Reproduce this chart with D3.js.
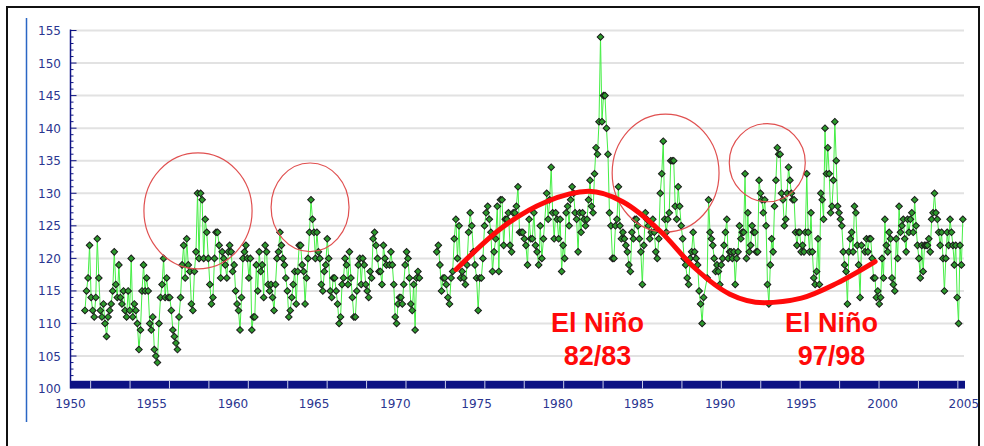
<!DOCTYPE html>
<html>
<head>
<meta charset="utf-8">
<script src="https://cdn.jsdelivr.net/npm/d3@7"></script>
<style>
  html, body { margin: 0; padding: 0; background: #fff; }
  svg { display: block; }
</style>
</head>
<body>
<svg id="chart" width="984" height="446"></svg>
<script>
// ==========================================================================
// DATA (monthly readings)
// ==========================================================================

// each block: values spread evenly between its first and last year
const block1Span = [1950.89, 1959.72];
const block1 = [112, 115, 117, 122, 114, 112, 111, 114, 123, 117, 112, 111, 113, 110, 108, 111,
  112, 113, 115, 121, 116, 114, 119, 114, 113, 115, 112, 111, 115, 112, 120, 111, 113, 112, 110,
  106, 109, 115, 119, 115, 117, 115, 110, 109, 111, 106, 105, 104, 110, 114, 116, 120, 114, 117,
  114, 114, 112, 109, 108, 107, 106, 111, 114, 119, 122, 117, 123, 119, 118, 113, 112, 118, 121,
  130, 120, 130, 129, 120, 126, 124, 120, 116, 113, 114, 120, 124, 124, 122, 117, 121, 120, 119,
  117, 121];

const block2Span = [1959.8, 1969.45];
const block2 = [122, 121, 118, 119, 115, 113, 112, 109, 114, 120, 121, 122, 120, 117, 120, 109,
  111, 111, 119, 115, 121, 118, 119, 114, 122, 121, 116, 115, 116, 114, 112, 116, 120, 121, 124,
  122, 120, 119, 117, 115, 111, 112, 114, 116, 118, 113, 118, 122, 122, 119, 118, 113, 117, 120,
  124, 129, 126, 124, 120, 124, 121, 120, 116, 115, 118, 119, 123, 120, 115, 114, 117, 117, 115,
  113, 110, 111, 116, 117, 120, 119, 116, 121, 117, 114, 111, 111, 115, 119, 120, 116, 120, 119,
  116, 115, 114, 118, 117, 123, 124, 122, 120, 118, 118, 116, 122, 120, 119];

const block3Span = [1969.64, 1971.48];
const block3 = [119, 121, 119, 116, 111, 110, 113, 114, 114, 113, 116, 119, 121, 120, 117, 113,
  112, 116, 109, 117, 118, 117];

const block4Span = [1972.55, 1979.12];
const block4 = [121, 122, 119, 115, 117, 117, 116, 114, 113, 117, 118, 123, 126, 120, 125, 117,
  118, 117, 116, 119, 124, 127, 125, 121, 119, 117, 112, 117, 117, 120, 125, 127, 128, 126, 124,
  118, 121, 123, 128, 118, 129, 129, 122, 126, 126, 127, 122, 121, 127, 127, 128, 131, 124, 124,
  124, 123, 122, 119, 126, 123, 123, 127, 122, 121, 119, 125, 120, 123];

const block5Span = [1979.32, 1988.98];
const block5 = [130, 126, 129, 134, 127, 123, 127, 126, 123, 126, 118, 122, 120, 127, 128, 125,
  129, 131, 130, 127, 126, 121, 127, 124, 127, 126, 125, 126, 129, 132, 128, 127, 133, 137, 136,
  141, 154, 141, 145, 145, 140, 136, 127, 125, 120, 120, 125, 126, 131, 125, 123, 124, 123, 122,
  121, 119, 118, 124, 123, 126, 126, 125, 123, 121, 116, 122, 127, 126, 125, 123, 124, 126, 124,
  121, 120, 123, 130, 133, 138, 126, 124, 126, 127, 135, 135, 135, 128, 126, 131, 128, 125, 123,
  120, 119, 117, 116, 120, 121, 124, 121, 120, 119, 115, 113, 110, 114];

const block6Span = [1989.2, 1998.7];
const block6 = [117, 129, 124, 123, 122, 120, 118, 119, 118, 116, 119, 120, 122, 124, 126, 120,
  121, 121, 120, 121, 116, 120, 121, 125, 123, 124, 124, 133, 120, 127, 121, 122, 125, 124, 124,
  121, 121, 132, 130, 129, 127, 129, 125, 116, 113, 119, 123, 121, 128, 132, 137, 136, 136, 130,
  129, 125, 126, 130, 134, 132, 130, 129, 129, 124, 122, 124, 124, 121, 122, 121, 124, 133, 124,
  121, 127, 121, 117, 116, 118, 123, 116, 130, 129, 126, 140, 133, 137, 133, 127, 128, 132, 141,
  135, 128, 127, 126, 125, 121, 119, 118, 113, 121, 123, 124, 121, 128, 127, 122, 119, 114, 122];

const block7Span = [1998.92, 2004.94];
const block7 = [121, 123, 121, 123, 123, 120, 117, 117, 114, 115, 113, 114, 120, 117, 126, 122,
  121, 124, 123, 117, 116, 115, 123, 120, 128, 124, 125, 126, 123, 121, 126, 124, 126, 127, 124,
  129, 125, 122, 120, 117, 122, 118, 122, 122, 122, 123, 121, 126, 127, 130, 127, 126, 124, 122,
  124, 120, 115, 120, 124, 122, 126, 124, 122, 119, 122, 114, 110, 122, 119, 126];

// tick labels
const yTicks = [100, 105, 110, 115, 120, 125, 130, 135, 140, 145, 150, 155];
const xTicks = [1950, 1955, 1960, 1965, 1970, 1975, 1980, 1985, 1990, 1995, 2000, 2005];

// annotations: ellipse centres (year, value) with radii in years / value units
const circleYears = [1957.85, 1964.75, 1986.64, 1992.9];
const circleValues = [127.3, 127.85, 133.1, 134.7];
const circleRadYears = [3.33, 2.4, 3.29, 2.34];
const circleRadValues = [8.9, 6.8, 9.05, 6.0];

// hand-drawn red trend curve
const trendYears = [1973.74, 1976.5, 1979.3, 1981.9, 1984.0, 1986.3, 1988.4, 1990.6, 1992.7,
  1995.0, 1997.2, 1999.54];
const trendValues = [118.3, 124.6, 128.7, 130.3, 128.7, 124.2, 118.6, 114.5, 113.2, 113.9,
  116.2, 119.5];

const ninoLabels = [
  { year: 1982.45, lines: ['El Niño', '82/83'] },
  { year: 1996.85, lines: ['El Niño', '97/98'] }
];

// ==========================================================================
// LAYOUT
// ==========================================================================

const CONFIG = {
  width: 984,
  height: 446,
  left: 70.5,
  right: 963.8,
  top: 30.5,
  bottom: 388.6,
  gridEnd: 964,
  bandEnd: 965,
  navy: '#0d1283',
  labelColor: '#2a3590',
  lineColor: '#45ee45',
  markerFill: '#2c9a2c',
  red: '#ff0a0a'
};

// ==========================================================================
// DRAWING
// ==========================================================================

function spread(values, span) {
  const step = (span[1] - span[0]) / (values.length - 1);
  return values.map((v, i) => ({ year: span[0] + i * step, value: v }));
}

function drawChart() {
  const svg = d3.select('#chart');

  const x = d3.scaleLinear().domain([1950, 2005]).range([CONFIG.left, CONFIG.right]);
  const y = d3.scaleLinear().domain([100, 155]).range([CONFIG.bottom, CONFIG.top]);

  const segments = [
    [].concat(spread(block1, block1Span), spread(block2, block2Span), spread(block3, block3Span)),
    [].concat(spread(block4, block4Span), spread(block5, block5Span), spread(block6, block6Span),
      spread(block7, block7Span))
  ];

  // Frame
  svg.append('rect')
    .attr('x', 7).attr('y', 7)
    .attr('width', 972).attr('height', 450)
    .attr('fill', 'none')
    .attr('stroke', '#111')
    .attr('stroke-width', 2);

  svg.append('line')
    .attr('x1', 26.5).attr('x2', 26.5)
    .attr('y1', 18).attr('y2', 422)
    .attr('stroke', '#2a66c4')
    .attr('stroke-width', 1.5);

  // Grid
  svg.append('g')
    .selectAll('line')
    .data(yTicks.filter(t => t > 100))
    .enter().append('line')
    .attr('x1', CONFIG.left)
    .attr('x2', CONFIG.gridEnd)
    .attr('y1', d => y(d))
    .attr('y2', d => y(d))
    .attr('stroke', '#e2e2e2')
    .attr('stroke-width', 2);

  // Y axis: line, minor ticks every unit, labels
  const yAxis = svg.append('g');
  yAxis.append('line')
    .attr('x1', CONFIG.left).attr('x2', CONFIG.left)
    .attr('y1', y(155) - 1).attr('y2', CONFIG.bottom)
    .attr('stroke', CONFIG.navy)
    .attr('stroke-width', 1.5);

  yAxis.selectAll('.tick')
    .data(d3.range(101, 156))
    .enter().append('line')
    .attr('x1', CONFIG.left)
    .attr('x2', d => CONFIG.left + (d % 5 === 0 ? 6 : 3))
    .attr('y1', d => y(d))
    .attr('y2', d => y(d))
    .attr('stroke', CONFIG.navy)
    .attr('stroke-width', 1);

  yAxis.selectAll('text')
    .data(yTicks)
    .enter().append('text')
    .attr('x', 61)
    .attr('y', d => y(d) + 1)
    .attr('text-anchor', 'end')
    .attr('dominant-baseline', 'middle')
    .attr('font-family', 'DejaVu Sans, Verdana, sans-serif')
    .attr('font-size', 12)
    .attr('fill', CONFIG.labelColor)
    .text(d => d);

  // X axis: thick navy band with light separators
  const xAxis = svg.append('g');
  xAxis.append('rect')
    .attr('x', CONFIG.left)
    .attr('y', y(101.2))
    .attr('width', CONFIG.bandEnd - CONFIG.left)
    .attr('height', y(100) - y(101.2))
    .attr('fill', CONFIG.navy);

  xAxis.selectAll('.sep')
    .data(d3.range(1951.24, 2005.2, 2.427))
    .enter().append('line')
    .attr('x1', d => x(d)).attr('x2', d => x(d))
    .attr('y1', y(101.2)).attr('y2', y(100))
    .attr('stroke', '#c8cce8')
    .attr('stroke-width', 1);

  xAxis.selectAll('text')
    .data(xTicks)
    .enter().append('text')
    .attr('x', d => x(d))
    .attr('y', 408)
    .attr('text-anchor', 'middle')
    .attr('font-family', 'DejaVu Sans, Verdana, sans-serif')
    .attr('font-size', 12)
    .attr('fill', CONFIG.labelColor)
    .text(d => d);

  // Series line + markers
  const line = d3.line()
    .x(d => x(d.year))
    .y(d => y(d.value));

  svg.append('g')
    .selectAll('path')
    .data(segments)
    .enter().append('path')
    .attr('d', line)
    .attr('fill', 'none')
    .attr('stroke', CONFIG.lineColor)
    .attr('stroke-width', 1);

  const diamond = d3.symbol().type(d3.symbolSquare).size(22);
  svg.append('g')
    .selectAll('path')
    .data(segments.flat())
    .enter().append('path')
    .attr('d', diamond)
    .attr('transform', d => `translate(${x(d.year)},${y(d.value)}) rotate(45)`)
    .attr('fill', CONFIG.markerFill)
    .attr('stroke', '#1b1b1b')
    .attr('stroke-width', 1);

  // Annotation circles
  svg.append('g')
    .selectAll('ellipse')
    .data(circleYears.map((yr, i) => i))
    .enter().append('ellipse')
    .attr('cx', i => x(circleYears[i]))
    .attr('cy', i => y(circleValues[i]))
    .attr('rx', i => x(circleYears[i] + circleRadYears[i]) - x(circleYears[i]))
    .attr('ry', i => y(circleValues[i] - circleRadValues[i]) - y(circleValues[i]))
    .attr('fill', 'none')
    .attr('stroke', '#e05050')
    .attr('stroke-width', 1.2);

  // Red trend curve
  const trend = d3.line()
    .x(i => x(trendYears[i]))
    .y(i => y(trendValues[i]))
    .curve(d3.curveMonotoneX);

  svg.append('path')
    .attr('d', trend(trendYears.map((d, i) => i)))
    .attr('fill', 'none')
    .attr('stroke', CONFIG.red)
    .attr('stroke-width', 5)
    .attr('stroke-linecap', 'round');

  // El Niño labels
  const labels = svg.append('g')
    .selectAll('text')
    .data(ninoLabels)
    .enter().append('text')
    .attr('text-anchor', 'middle')
    .attr('font-family', 'Liberation Sans, Arial, sans-serif')
    .attr('font-weight', 'bold')
    .attr('font-size', 27)
    .attr('fill', CONFIG.red);

  labels.selectAll('tspan')
    .data(d => d.lines.map(t => ({ t, year: d.year })))
    .enter().append('tspan')
    .attr('x', d => x(d.year))
    .attr('y', (d, i) => 332 + i * 33)
    .text(d => d.t);
}

drawChart();
</script>
</body>
</html>
